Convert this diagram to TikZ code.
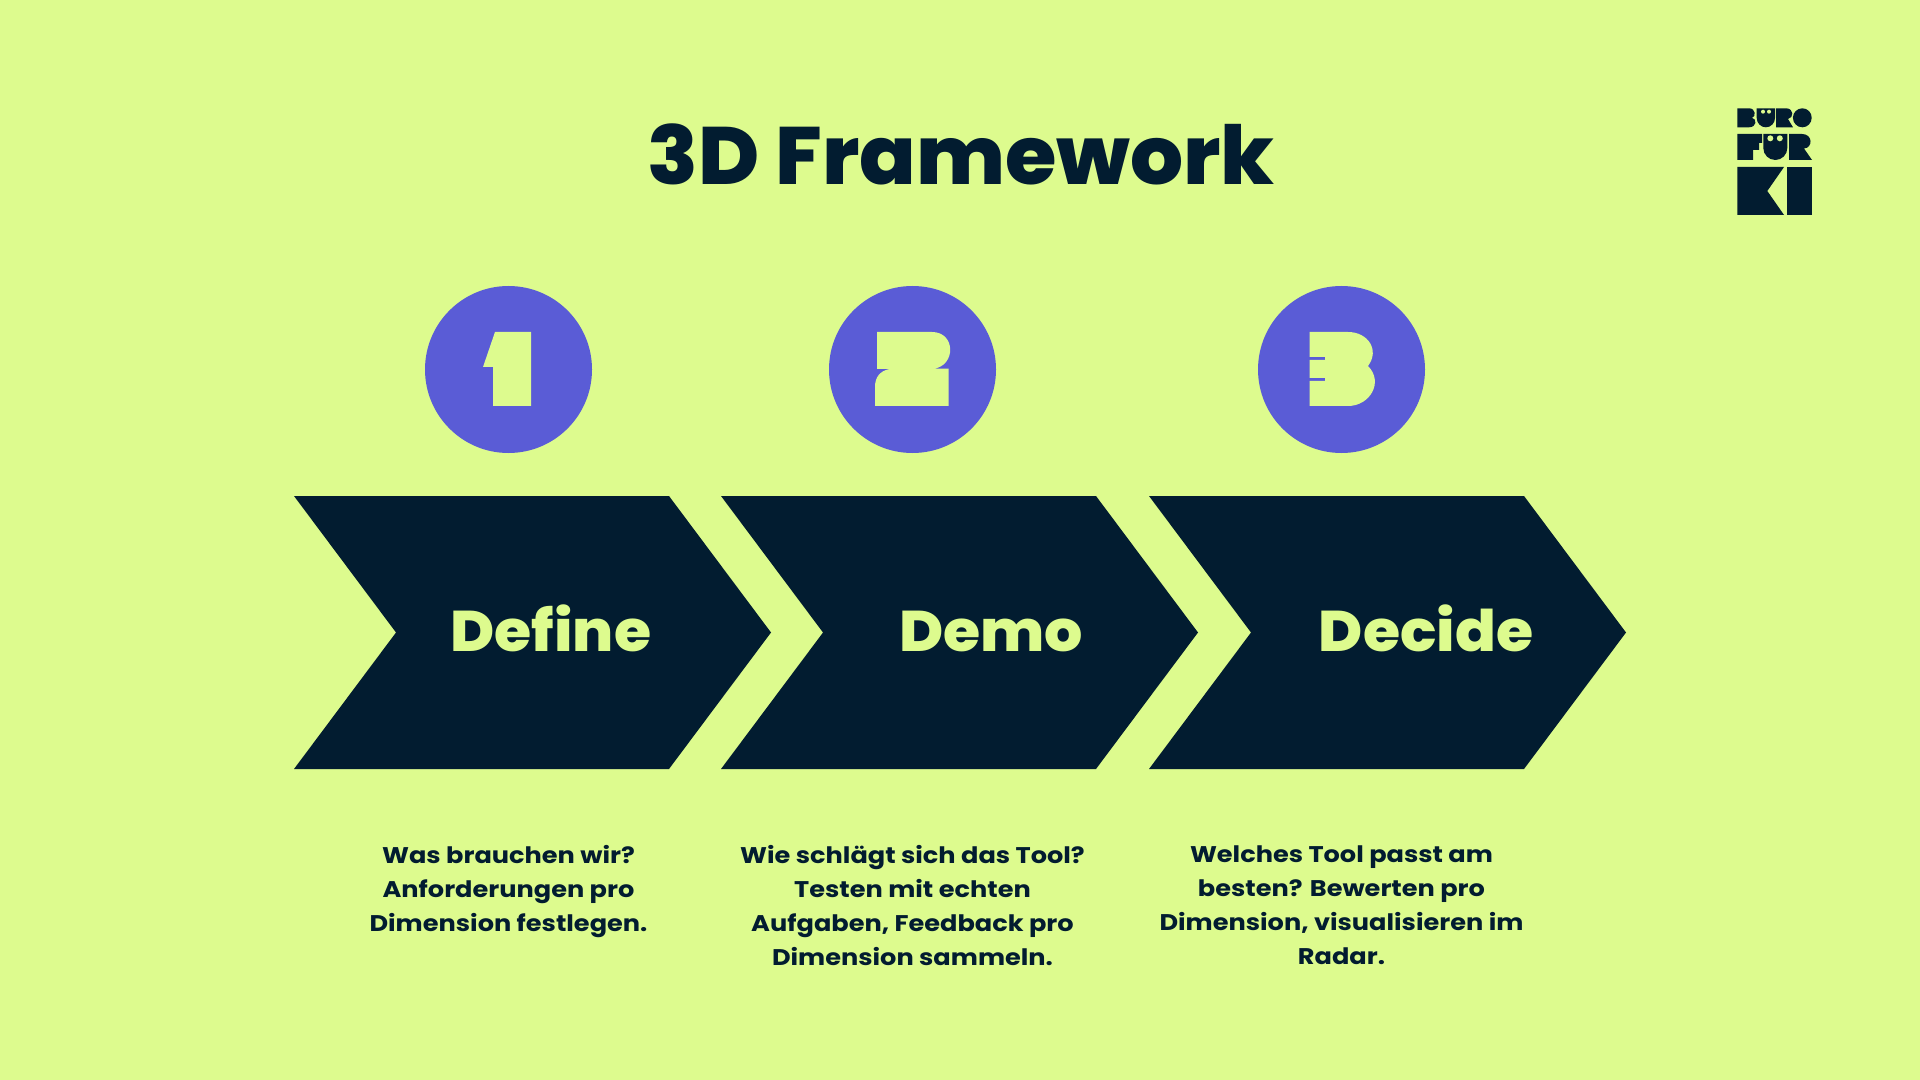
\documentclass[tikz,border=0pt]{standalone}
\usepackage{fontspec}
\setmainfont{Poppins}
\newfontfamily\headfont{Poppins ExtraBold}[FakeStretch=1.025]
\newfontfamily\labelfont{Poppins ExtraBold}[FakeStretch=1.05]
\newfontfamily\notefont{Poppins}[UprightFont=* Bold, FakeStretch=1.13]
\definecolor{bglime}{HTML}{DDFB8E}
\definecolor{darknavy}{HTML}{021C30}
\definecolor{numblue}{HTML}{5A5CD6}
\tikzset{
  heading/.style={anchor=base, inner sep=0pt, text=darknavy, font=\fontsize{61}{61}\headfont},
  steplabel/.style={anchor=base, inner sep=0pt, text=bglime, font=\fontsize{43}{43}\labelfont},
  stepnote/.style={anchor=north, inner sep=0pt, align=center, text=darknavy, font=\fontsize{17}{25.6}\notefont,
    execute at begin node={\vphantom{Ä}}},
  numdisc/.style={circle, fill=numblue, inner sep=0pt, minimum size=125.25pt},
  chevron/.pic={\fill[darknavy] (0,0) -- (375,0) -- (477,136.5) -- (375,273) -- (0,273) -- (102,136.5) -- cycle;},
}
\begin{document}
\begin{tikzpicture}[x=0.75pt, y=-0.75pt]
  \fill[bglime] (0,0) rectangle (1920,1080);
  \node[heading] (title) at (961,185) {3D Framework};

  % chevrons
  \pic at (294,496) {chevron};
  \pic at (721,496) {chevron};
  \pic at (1149,496) {chevron};
  \node[steplabel] (define) at (551,651) {Define};
  \node[steplabel] (demo) at (991,651) {Demo};
  \node[steplabel] (decide) at (1426,651) {Decide};

  % numbers
  \node[numdisc] (disc1) at (508.5,369.5) {};
  \node[numdisc] (disc2) at (912.5,369.5) {};
  \node[numdisc] (disc3) at (1341.5,369.5) {};
  \fill[bglime] (495,332) -- (531,332) -- (531,406) -- (493,406) -- (493,367) -- (483,367) -- cycle;
  \fill[bglime] (877,332) -- (932,332) .. controls (956,332) and (956,366) .. (933.5,368.7)
    -- (948.5,368.7) -- (948.5,406) -- (875,406) -- (875,387) .. controls (875,377) and (880,371) .. (889.5,369)
    -- (877,369) -- cycle;
  \fill[bglime] (1309.5,332) -- (1348,332) .. controls (1368,332) and (1380,350) .. (1368,366)
    .. controls (1384,382) and (1370,406) .. (1348,406) -- (1309.5,406) -- (1309.5,381) -- (1325,381) -- (1325,378)
    -- (1309.5,378) -- (1309.5,360) -- (1325,360) -- (1325,357) -- (1309.5,357) -- cycle;

  % text below
  \node[stepnote] (note1) at (508.5,845) {Was brauchen wir?\\Anforderungen pro\\Dimension festlegen.};
  \node[stepnote] (note2) at (912.5,845) {Wie schlägt sich das Tool?\\Testen mit echten\\Aufgaben, Feedback pro\\Dimension sammeln.};
  \node[stepnote] (note3) at (1341.5,845) {Welches Tool passt am\\besten? Bewerten pro\\Dimension, visualisieren im\\Radar.};

  % logo
  \fill[darknavy] (1737.3,108.3) -- (1749,108.3) .. controls (1756,108.3) and (1756,117) .. (1752,117.8)
    .. controls (1757,118.6) and (1757,127.3) .. (1749,127.3) -- (1737.3,127.3) -- cycle;
  \fill[darknavy] (1756.7,108.3) -- (1775,108.3) -- (1775,118) arc[start angle=0, end angle=180, x radius=9.15, y radius=9.3] -- cycle;
  \fill[bglime] (1763,111.7) circle[radius=2] (1769,111.7) circle[radius=2];
  \fill[darknavy] (1776,108.3) -- (1786,108.3) .. controls (1794,108.3) and (1794,118) .. (1788,119) -- (1793,127.3) -- (1776,127.3) -- cycle;
  \fill[darknavy] (1802.3,117.8) ellipse[x radius=9.4, y radius=9.5];
  \fill[darknavy] (1737.3,134) -- (1762,134) -- (1762,143) -- (1759,143) -- (1759,150) -- (1753,150) -- (1753,160) -- (1737.3,160) -- cycle;
  \fill[darknavy] (1763.3,134) -- (1787.3,134) -- (1787.3,148) arc[start angle=0, end angle=180, radius=12] -- cycle;
  \fill[bglime] (1770.3,138.3) circle[radius=3] (1779.8,138.3) circle[radius=3];
  \fill[darknavy] (1789,134) -- (1802,134) .. controls (1813,134) and (1813,148) .. (1804,148.5) -- (1812,160) -- (1789,160) -- cycle;
  \fill[darknavy] (1737.3,167) -- (1784,167) -- (1767.3,191) -- (1784,215) -- (1737.3,215) -- cycle;
  \fill[darknavy] (1787.3,167) rectangle (1811.7,215);
\end{tikzpicture}
\end{document}
